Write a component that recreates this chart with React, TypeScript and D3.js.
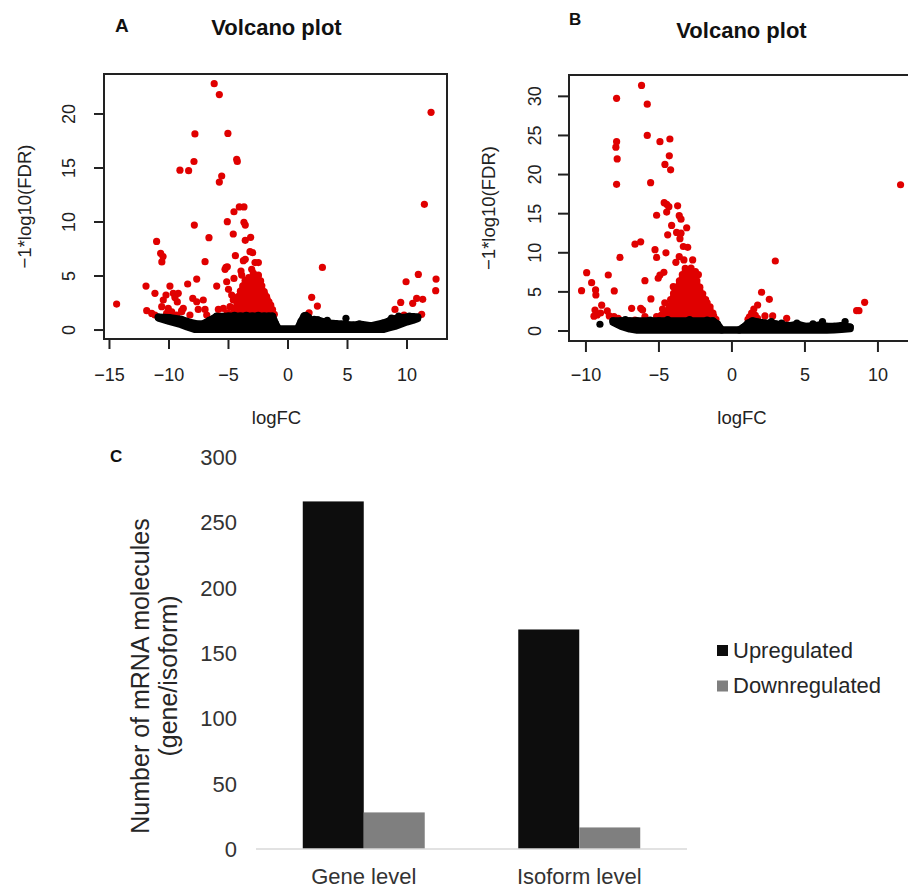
import React from "react";
import * as d3 from "d3";

const FONT = "'Liberation Sans', Arial, Helvetica, sans-serif";
const RED = "#e00000";
const INK = "#222";

type Pt = [number, number];
type Env = [number, number, number];

// ---------------- Panel A data ----------------
const aXTicks = [-15, -10, -5, 0, 5, 10];
const aYTicks = [0, 5, 10, 15, 20];

const aRed: Pt[] = [
  [-6.2, 22.8], [-5.77, 21.8], [12.02, 20.15], [-7.82, 18.15], [-5.05, 18.2],
  [-9.08, 14.8], [-8.35, 14.75], [-7.9, 15.6], [-4.31, 15.8], [-4.26, 15.6],
  [-5.57, 14.26], [-5.77, 13.7], [11.46, 11.64],
  [-4.54, 10.95], [-4.09, 11.4], [-3.7, 11.4], [-5.1, 10.03], [-3.7, 9.97], [-3.59, 9.72], [-7.87, 9.72],
  [-4.6, 8.89], [-3.59, 8.3], [-3.14, 8.58], [-6.64, 8.55], [-11.04, 8.2],
  [-10.7, 7.1], [-10.5, 6.8], [-10.6, 6.3], [-3.19, 7.25], [-2.97, 7.16], [-4.42, 6.88],
  [-6.97, 6.33], [-3.75, 6.42], [-3.59, 6.55], [-2.77, 6.24], [-2.49, 6.24],
  [-5.21, 5.8], [-5.1, 5.86], [-5.29, 5.62], [2.89, 5.8],
  [-3.05, 5.62], [-2.91, 5.25], [-2.49, 5.09], [-3.95, 5.46], [-3.89, 5.09],
  [-7.67, 4.72], [-4.54, 4.78], [-5.15, 4.47], [10.95, 5.15], [12.44, 4.72], [9.92, 4.47],
  [-11.93, 4.07], [-9.92, 4.07], [-8.43, 4.26], [-5.99, 4.07], [12.41, 3.64],
  [-5.0, 3.77], [-4.73, 3.24], [-4.6, 2.78], [-4.87, 2.16], [-4.9, 1.5], [-5.1, 1.6],
  [-11.18, 3.4], [-10.25, 3.24], [-10.48, 2.78], [-10.61, 2.16], [-10.06, 2.0],
  [-9.64, 3.4], [-9.5, 3.0], [-9.3, 2.6], [-9.22, 3.4], [-8.8, 2.0], [-8.93, 1.79],
  [-8.0, 2.93], [-7.67, 2.62], [-7.12, 2.78], [-7.54, 1.91], [-6.97, 1.91], [-8.24, 1.39], [-8.93, 1.7], [-9.35, 1.39],
  [-5.85, 1.91], [-5.43, 2.0], [-6.83, 1.39],
  [-11.87, 1.79], [-11.45, 1.54], [-11.18, 1.39], [-10.2, 1.54], [-9.77, 1.69],
  [-14.4, 2.4],
  [1.99, 3.03], [2.47, 2.22], [1.77, 1.6],
  [9.47, 2.56], [8.99, 1.91], [9.75, 1.39], [10.48, 2.47], [10.81, 2.93], [11.32, 2.84], [11.23, 1.45],
];

const aCluster: Pt[] = [
  [-4.6, 1.6], [-4.2, 1.55], [-3.8, 1.6], [-3.4, 1.5], [-3.0, 1.6], [-2.6, 1.55], [-2.2, 1.6], [-1.8, 1.5], [-1.4, 1.55], [-1.15, 1.45],
  [-4.45, 1.85], [-4.05, 1.8], [-3.6, 1.85], [-3.2, 1.8], [-2.8, 1.85], [-2.4, 1.8], [-2.0, 1.85], [-1.6, 1.8], [-1.3, 1.65],
  [-4.4, 2.1], [-4.0, 2.15], [-3.6, 2.05], [-3.2, 2.1], [-2.8, 2.15], [-2.4, 2.05], [-2.0, 2.1], [-1.6, 2.1], [-1.3, 1.9],
  [-4.2, 2.35], [-3.8, 2.4], [-3.4, 2.3], [-3.0, 2.35], [-2.6, 2.4], [-2.2, 2.3], [-1.8, 2.35], [-1.45, 2.3],
  [-4.3, 2.6], [-3.9, 2.65], [-3.5, 2.55], [-3.1, 2.6], [-2.7, 2.65], [-2.3, 2.55], [-1.9, 2.6], [-1.6, 2.6],
  [-4.1, 2.85], [-3.7, 2.9], [-3.3, 2.8], [-2.9, 2.85], [-2.5, 2.9], [-2.1, 2.8], [-1.75, 2.85],
  [-4.2, 3.1], [-3.7, 3.15], [-3.3, 3.05], [-2.9, 3.1], [-2.5, 3.15], [-2.1, 3.05], [-1.8, 3.1],
  [-3.95, 3.35], [-3.5, 3.4], [-3.1, 3.3], [-2.7, 3.35], [-2.3, 3.4], [-1.95, 3.3],
  [-4.0, 3.6], [-3.6, 3.65], [-3.2, 3.55], [-2.8, 3.6], [-2.4, 3.65], [-2.0, 3.55],
  [-3.8, 3.85], [-3.4, 3.9], [-3.0, 3.8], [-2.6, 3.85], [-2.2, 3.8],
  [-3.8, 4.1], [-3.4, 4.15], [-3.0, 4.05], [-2.6, 4.1], [-2.2, 4.1],
  [-3.6, 4.35], [-3.2, 4.4], [-2.8, 4.3], [-2.4, 4.35],
  [-3.6, 4.6], [-3.1, 4.6], [-2.7, 4.65], [-2.3, 4.55],
  [-3.3, 4.85], [-2.9, 5.0], [-2.5, 5.0],
];

// non-significant mass: [logFC, upper, lower]
const aMass: Env[] = [
  [-10.9, 1.2, 1.1], [-10.0, 1.15, 0.8], [-9.0, 1.0, 0.5], [-8.5, 0.8, 0.3], [-7.8, 0.6, 0.05],
  [-7.2, 0.55, 0.05], [-6.6, 0.9, 0.05], [-6.0, 1.25, 0.05], [-5.0, 1.3, 0.05], [-4.0, 1.3, 0.05],
  [-3.0, 1.3, 0.05], [-2.0, 1.3, 0.05], [-1.3, 1.3, 0.05], [-1.05, 0.6, 0.05], [-0.8, 0.12, 0.05],
  [0.8, 0.12, 0.05], [1.1, 0.8, 0.05], [1.35, 1.3, 0.05], [1.7, 1.2, 0.05], [2.0, 0.8, 0.05],
  [2.5, 0.95, 0.05], [3.0, 0.75, 0.05], [3.5, 0.65, 0.05], [4.0, 0.6, 0.05], [4.5, 0.55, 0.05],
  [5.5, 0.45, 0.05], [6.0, 0.55, 0.05], [7.0, 0.4, 0.05], [8.0, 0.65, 0.05], [8.5, 0.85, 0.2],
  [9.0, 1.05, 0.35], [9.5, 1.15, 0.55], [10.0, 1.2, 0.75], [10.5, 1.25, 0.9], [10.9, 1.2, 1.05],
];
const aBlack: Pt[] = [
  [4.87, 1.08], [2.69, 0.77], [-6.0, 1.3], [-5.7, 1.15], [-4.5, 1.35], [-3.5, 1.35], [-2.5, 1.35],
  [-1.6, 1.3], [1.5, 1.35], [2.2, 1.0], [3.3, 0.9], [8.7, 1.1], [9.3, 1.3], [10.2, 1.3],
];

// ---------------- Panel B data ----------------
const bXTicks = [-10, -5, 0, 5, 10];
const bYTicks = [0, 5, 10, 15, 20, 25, 30];

const bRed: Pt[] = [
  [-6.19, 31.4], [-7.9, 29.75], [-5.8, 29.0], [-5.8, 25.0], [-7.9, 24.2], [-7.95, 23.5], [-7.86, 22.0], [-7.9, 18.75],
  [-4.93, 24.2], [-4.25, 24.55], [-4.29, 22.4], [-4.59, 21.3], [-4.2, 20.6], [-5.57, 18.96], [11.55, 18.7],
  [-5.16, 14.8], [-4.64, 16.4], [-4.47, 16.2], [-4.32, 15.9], [-4.47, 15.2], [-3.72, 16.0], [-3.61, 14.75], [-3.49, 14.3],
  [-4.13, 13.5], [-3.1, 13.2], [-3.79, 12.6], [-3.49, 12.5], [-3.56, 11.8], [-4.4, 12.3],
  [-6.64, 11.1], [-6.25, 11.4], [-3.33, 10.8], [-3.03, 10.7], [-5.27, 10.4], [-4.52, 10.0], [-5.16, 9.4], [-7.67, 9.4],
  [-3.61, 9.5], [-3.29, 9.08], [-2.69, 9.08], [-3.84, 8.78], [2.97, 8.95],
  [-9.95, 7.46], [-8.47, 7.16], [-4.66, 7.5], [-4.93, 7.16], [-5.05, 6.74], [-5.96, 6.43], [-9.61, 6.18], [-4.02, 5.67],
  [-10.3, 5.16], [-9.34, 5.25], [-9.32, 4.6], [-8.06, 5.12], [-5.55, 4.1],
  [-8.92, 3.3], [-9.38, 2.68], [-9.23, 2.05], [-8.54, 2.56], [-8.4, 1.92], [-9.0, 2.3], [-9.45, 1.9],
  [-6.87, 2.9], [-6.25, 2.9], [-6.12, 2.68], [-8.08, 1.83], [-7.79, 1.62], [-6.64, 1.4], [-5.96, 1.83], [-5.16, 1.83],
  [2.03, 4.95], [2.56, 4.05], [1.76, 3.32], [2.26, 1.92], [2.79, 1.92], [3.75, 1.62], [8.54, 2.6], [8.7, 2.6], [9.09, 3.67],
  [1.2, 1.8], [1.35, 2.3], [1.5, 2.8], [1.6, 2.0], [1.75, 1.6], [1.1, 1.5], [1.45, 1.5],
];

const bCluster: Pt[] = [
  [-4.9, 1.5], [-4.85, 2.0], [-4.75, 2.8], [-4.6, 3.6],
  [-4.6, 1.6], [-4.2, 1.65], [-3.8, 1.55], [-3.4, 1.6], [-3.0, 1.65], [-2.6, 1.55], [-2.2, 1.6], [-1.8, 1.65], [-1.4, 1.55], [-1.1, 1.5],
  [-4.4, 2.0], [-4.0, 2.05], [-3.6, 1.95], [-3.2, 2.0], [-2.8, 2.05], [-2.4, 1.95], [-2.0, 2.0], [-1.6, 2.05], [-1.25, 1.9],
  [-4.5, 2.4], [-4.1, 2.45], [-3.7, 2.35], [-3.3, 2.4], [-2.9, 2.45], [-2.5, 2.35], [-2.1, 2.4], [-1.7, 2.45], [-1.3, 2.3],
  [-4.3, 2.8], [-3.9, 2.85], [-3.5, 2.75], [-3.1, 2.8], [-2.7, 2.85], [-2.3, 2.75], [-1.9, 2.8], [-1.5, 2.7],
  [-4.3, 3.2], [-3.9, 3.25], [-3.5, 3.15], [-3.1, 3.2], [-2.7, 3.25], [-2.3, 3.15], [-1.9, 3.2], [-1.5, 3.1],
  [-4.1, 3.6], [-3.7, 3.65], [-3.3, 3.55], [-2.9, 3.6], [-2.5, 3.65], [-2.1, 3.55], [-1.7, 3.6],
  [-4.2, 4.0], [-3.8, 4.05], [-3.4, 3.95], [-3.0, 4.0], [-2.6, 4.05], [-2.2, 3.95], [-1.8, 4.0],
  [-4.0, 4.4], [-3.6, 4.45], [-3.2, 4.35], [-2.8, 4.4], [-2.4, 4.45], [-2.0, 4.35],
  [-4.0, 4.8], [-3.6, 4.85], [-3.2, 4.75], [-2.8, 4.8], [-2.4, 4.85], [-2.0, 4.75],
  [-3.8, 5.2], [-3.4, 5.25], [-3.0, 5.15], [-2.6, 5.2], [-2.2, 5.2],
  [-3.8, 5.6], [-3.4, 5.65], [-3.0, 5.55], [-2.6, 5.6], [-2.2, 5.6],
  [-3.6, 6.0], [-3.2, 6.05], [-2.8, 5.95], [-2.4, 6.0],
  [-3.6, 6.4], [-3.2, 6.45], [-2.8, 6.35], [-2.4, 6.4],
  [-3.4, 6.8], [-3.0, 6.85], [-2.6, 6.75],
  [-3.4, 7.2], [-3.0, 7.25], [-2.6, 7.15], [-2.3, 7.2],
  [-3.2, 7.6], [-2.8, 7.65], [-2.5, 7.6],
  [-3.2, 8.0], [-2.8, 8.05],
];

const bMass: Env[] = [
  [-8.15, 1.3, 1.1], [-7.6, 1.3, 0.6], [-7.0, 1.3, 0.25], [-6.5, 1.3, 0.1], [-5.0, 1.3, 0.1],
  [-3.0, 1.3, 0.1], [-1.3, 1.3, 0.1], [-1.0, 0.9, 0.1], [-0.7, 0.15, 0.1], [0.5, 0.15, 0.1],
  [0.8, 0.5, 0.1], [1.1, 1.0, 0.1], [1.4, 1.3, 0.1], [1.8, 1.15, 0.1], [2.3, 1.0, 0.1],
  [3.0, 0.9, 0.1], [3.5, 0.75, 0.1], [4.0, 0.7, 0.1], [4.5, 0.85, 0.1], [5.0, 0.6, 0.1],
  [5.5, 0.65, 0.1], [6.0, 0.75, 0.1], [6.5, 0.6, 0.12], [7.0, 0.6, 0.15], [7.5, 0.7, 0.2], [8.1, 0.5, 0.3],
];
const bBlack: Pt[] = [
  [-9.04, 0.86], [4.45, 1.0], [6.2, 1.2], [7.75, 1.2], [5.55, 0.9], [-6.3, 1.2],
  [-7.3, 1.45], [-5.6, 1.4], [-4.4, 1.45], [-2.9, 1.45], [-1.7, 1.4], [2.7, 1.2], [3.4, 1.0],
];

// ---------------- Panel C data ----------------
const cCategories = ["Gene level", "Isoform level"];
const cSeries = ["Upregulated", "Downregulated"];
const cUp = [266, 168];
const cDown = [28, 16.5];
const cYTicks = [0, 50, 100, 150, 200, 250, 300];
const cColors = ["#0d0d0d", "#7f7f7f"];

const DOT_R = 3.6;

type VolcanoProps = {
  letter: string; letterX: number; letterY: number; letterSize: number;
  titleX: number; titleY: number;
  box: { l: number; r: number; t: number; b: number };
  xDomain: [number, number]; yDomain: [number, number];
  xTicks: number[]; yTicks: number[];
  red: Pt[]; cluster: Pt[]; mass: Env[]; black: Pt[];
  yTickX: number; yLabelX: number; xTickY: number; xLabelY: number; xLabelX: number;
  tickLen: number;
};

function Volcano(p: VolcanoProps) {
  const x = d3.scaleLinear().domain(p.xDomain).range([p.box.l, p.box.r]);
  const y = d3.scaleLinear().domain(p.yDomain).range([p.box.b, p.box.t]);
  const area = d3.area<Env>().x((d) => x(d[0])).y0((d) => y(d[2])).y1((d) => y(d[1]));
  const yMid = (p.box.t + p.box.b) / 2;
  return (
    <g fontFamily={FONT}>
      <text x={p.letterX} y={p.letterY} fontSize={p.letterSize} fontWeight="bold" fill="#111">{p.letter}</text>
      <text x={p.titleX} y={p.titleY} fontSize={22} fontWeight="bold" fill="#111" textAnchor="middle">Volcano plot</text>
      {[...p.red, ...p.cluster].map((d, i) => (
        <circle key={"r" + i} cx={x(d[0])} cy={y(d[1])} r={DOT_R} fill={RED} />
      ))}
      <path d={area(p.mass) || ""} fill="#000" stroke="#000" strokeWidth={DOT_R * 2} strokeLinejoin="round" />
      {p.mass.map((d, i) => (
        <circle key={"m" + i} cx={x(d[0])} cy={y(d[1])} r={DOT_R} fill="#000" />
      ))}
      {p.black.map((d, i) => (
        <circle key={"k" + i} cx={x(d[0])} cy={y(d[1])} r={DOT_R} fill="#000" />
      ))}
      <rect x={p.box.l} y={p.box.t} width={p.box.r - p.box.l} height={p.box.b - p.box.t} fill="none" stroke={INK} strokeWidth={2} />
      {p.xTicks.map((t) => (
        <g key={"xt" + t}>
          <line x1={x(t)} x2={x(t)} y1={p.box.b} y2={p.box.b + p.tickLen} stroke={INK} strokeWidth={2} />
          <text x={x(t)} y={p.xTickY} fontSize={18} fill={INK} textAnchor="middle">{t < 0 ? "\u2212" + Math.abs(t) : String(t)}</text>
        </g>
      ))}
      {p.yTicks.map((t) => (
        <g key={"yt" + t}>
          <line x1={p.box.l - p.tickLen} x2={p.box.l} y1={y(t)} y2={y(t)} stroke={INK} strokeWidth={2} />
          <text transform={`translate(${p.yTickX},${y(t)}) rotate(-90)`} fontSize={18} fill={INK} textAnchor="middle">{String(t)}</text>
        </g>
      ))}
      <text x={p.xLabelX} y={p.xLabelY} fontSize={18.5} fill={INK} textAnchor="middle">logFC</text>
      <text transform={`translate(${p.yLabelX},${yMid}) rotate(-90)`} fontSize={18.5} fill={INK} textAnchor="middle">{"\u22121*log10(FDR)"}</text>
    </g>
  );
}

function BarPanel() {
  const x = d3.scaleBand<string>().domain(cCategories).range([256, 687]).padding(0);
  const groupW = x.bandwidth() * 0.566;
  const xs = d3.scaleBand<string>().domain(cSeries).range([0, groupW]).padding(0);
  const y = d3.scaleLinear().domain([0, 300]).range([849, 457]);
  const values = [cUp, cDown];
  return (
    <g fontFamily={FONT}>
      <text x={110} y={462} fontSize={17} fontWeight="bold" fill="#111">C</text>
      {cYTicks.map((t) => (
        <text key={"cy" + t} x={237} y={y(t) + 8} fontSize={22} fill="#333" textAnchor="end">{String(t)}</text>
      ))}
      {cSeries.map((s, si) =>
        cCategories.map((c, ci) => {
          const x0 = (x(c) || 0) + (x.bandwidth() - groupW) / 2 + (xs(s) || 0);
          return (
            <rect key={s + c} x={x0} y={y(values[si][ci])} width={xs.bandwidth()} height={y(0) - y(values[si][ci])} fill={cColors[si]} />
          );
        })
      )}
      <line x1={256} x2={687} y1={y(0)} y2={y(0)} stroke="#d9d9d9" strokeWidth={1.5} />
      {cCategories.map((c) => (
        <text key={"cl" + c} x={(x(c) || 0) + x.bandwidth() / 2} y={884} fontSize={22} fill="#333" textAnchor="middle">{c}</text>
      ))}
      <text transform={`translate(149,676) rotate(-90)`} fontSize={25} fill="#262626" textAnchor="middle">Number of mRNA molecules</text>
      <text transform={`translate(177,676) rotate(-90)`} fontSize={25} fill="#262626" textAnchor="middle">(gene/isoform)</text>
      {cSeries.map((s, si) => (
        <g key={"lg" + s}>
          <rect x={717} y={645 + si * 35.5} width={11} height={11} fill={cColors[si]} />
          <text x={733} y={658 + si * 35} fontSize={22} fill="#262626">{s}</text>
        </g>
      ))}
    </g>
  );
}

export default function App() {
  return (
    <svg width={908} height={888} viewBox="0 0 908 888" style={{ position: "absolute", left: 0, top: 0, background: "#fff" }}>
      <rect x={0} y={0} width={908} height={888} fill="#fff" />
      <Volcano
        letter="A" letterX={115} letterY={32} letterSize={19}
        titleX={276.5} titleY={35}
        box={{ l: 104, r: 447, t: 74, b: 339 }}
        xDomain={[-15.46, 13.36]} yDomain={[-0.83, 23.7]}
        xTicks={aXTicks} yTicks={aYTicks}
        red={aRed} cluster={aCluster} mass={aMass} black={aBlack}
        yTickX={75} yLabelX={31} xTickY={381} xLabelY={424} xLabelX={276.5} tickLen={10}
      />
      <Volcano
        letter="B" letterX={569} letterY={25} letterSize={17}
        titleX={741.5} titleY={38}
        box={{ l: 569, r: 914, t: 75, b: 341 }}
        xDomain={[-11.16, 12.47]} yDomain={[-1.28, 32.73]}
        xTicks={bXTicks} yTicks={bYTicks}
        red={bRed} cluster={bCluster} mass={bMass} black={bBlack}
        yTickX={541} yLabelX={495} xTickY={381} xLabelY={424} xLabelX={742} tickLen={11}
      />
      <BarPanel />
    </svg>
  );
}
